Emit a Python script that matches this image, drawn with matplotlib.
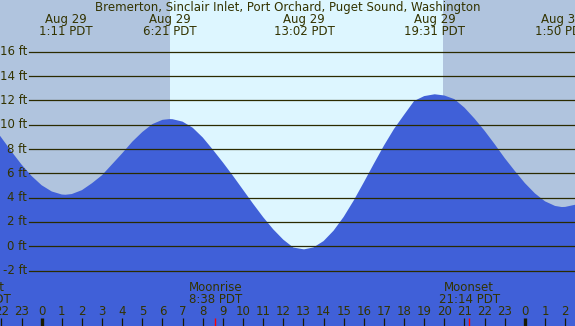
import matplotlib
matplotlib.use("Agg")
import matplotlib.pyplot as plt
import matplotlib.transforms as mtransforms

# tide height (ft) every half hour, hours from Aug 29 00:00
hours = [-2.5, -2.0, -1.5, -1.0, -0.5, 0.0, 0.5, 1.0, 1.18, 1.5, 2.0, 2.5,
         3.0, 3.5, 4.0, 4.5, 5.0, 5.5, 6.0, 6.35, 6.5, 7.0, 7.5, 8.0, 8.5,
         9.0, 9.5, 10.0, 10.5, 11.0, 11.5, 12.0, 12.5, 13.03, 13.5, 14.0,
         14.5, 15.0, 15.5, 16.0, 16.5, 17.0, 17.5, 18.0, 18.5, 19.0, 19.52,
         20.0, 20.5, 21.0, 21.5, 22.0, 22.5, 23.0, 23.5, 24.0, 24.5, 25.0,
         25.5, 25.83, 26.0, 26.5, 27.0]
height = [10.05, 8.93, 7.80, 6.72, 5.78, 5.02, 4.51, 4.26, 4.24, 4.30, 4.62,
          5.19, 5.85, 6.75, 7.65, 8.60, 9.40, 10.05, 10.40, 10.46, 10.45,
          10.25, 9.75, 8.95, 7.95, 6.90, 5.80, 4.65, 3.50, 2.40, 1.40, 0.55,
          -0.10, -0.25, -0.09, 0.43, 1.29, 2.42, 3.77, 5.26, 6.79, 8.28,
          9.65, 10.81, 11.95, 12.35, 12.50, 12.40, 12.10, 11.40, 10.50,
          9.50, 8.40, 7.25, 6.20, 5.20, 4.35, 3.70, 3.32, 3.23, 3.24, 3.42,
          3.80]

# high / low tide labels
ext_hours = [1.183, 6.35, 13.033, 19.517, 25.833]
ext_dates = ["Aug 29", "Aug 29", "Aug 29", "Aug 29", "Aug 30"]
ext_times = ["1:11 PDT", "6:21 PDT", "13:02 PDT", "19:31 PDT", "1:50 PDT"]

sunrise = 6.38
sunset = 19.93

moon_hours = [-3.05, 8.633, 21.233]
moon_names = ["Moonset", "Moonrise", "Moonset"]
moon_times = ["20:57 PDT", "8:38 PDT", "21:14 PDT"]

title = "Bremerton, Sinclair Inlet, Port Orchard, Puget Sound, Washington"
grid_ft = [-2, 0, 2, 4, 6, 8, 10, 12, 14, 16]

night_col = "#b0c4de"
day_col = "#ddf6ff"
water_col = "#4060d8"
text_col = "#333300"
fs = 8.45

W, H = 575, 326
fig = plt.figure(figsize=(W / 100, H / 100), dpi=100)
ax = fig.add_axes([0, 0, 1, 1])
ax.set_xlim(-2.07, 26.49)
ax.set_ylim(-6.55, 20.25)
ax.axis("off")
fig.patch.set_facecolor(night_col)

# day / night background
ax.axvspan(-5, sunrise, color=night_col, lw=0)
ax.axvspan(sunrise, sunset, color=day_col, lw=0)
ax.axvspan(sunset, 30, color=night_col, lw=0)

# water
ax.fill_between(hours, -10, height, color=water_col, lw=0, zorder=2)

# horizontal lines and their labels, starting just right of the label
bt = mtransforms.blended_transform_factory(ax.transAxes, ax.transData)
x0 = 29 / W
for v in grid_ft:
    ax.plot([x0, 1], [v, v], color="#2b2b00", lw=0.9, transform=bt, zorder=3)
    ax.text(27 / W, v, "%d ft" % v, transform=bt, ha="right", va="center",
            color=text_col, fontsize=fs, zorder=4)

tx = mtransforms.blended_transform_factory(ax.transData, ax.transAxes)

def ypos(px):
    return 1 - px / H

ax.text(0.5, ypos(7.5), title, transform=ax.transAxes, ha="center",
        va="center", color=text_col, fontsize=fs)

for h, d, t in zip(ext_hours, ext_dates, ext_times):
    ax.text(h, ypos(19.5), d, transform=tx, ha="center", va="center",
            color=text_col, fontsize=fs)
    ax.text(h, ypos(31.5), t, transform=tx, ha="center", va="center",
            color=text_col, fontsize=fs)

# hour ticks along the bottom
for h in range(-2, 27):
    lab = str(h % 24)
    midnight = (h % 24 == 0)
    ax.plot([h, h], [ypos(318), 0], color="#1a1a00",
            lw=2.4 if midnight else 0.9, transform=tx, zorder=5,
            solid_capstyle="butt")
    ax.text(h, ypos(311.5), lab, transform=tx, ha="center", va="center",
            color=text_col, fontsize=fs, zorder=5)

for h, n, t in zip(moon_hours, moon_names, moon_times):
    ax.text(h, ypos(287.5), n, transform=tx, ha="center", va="center",
            color=text_col, fontsize=fs, zorder=6)
    ax.text(h, ypos(299.5), t, transform=tx, ha="center", va="center",
            color=text_col, fontsize=fs, zorder=6)
    ax.plot([h, h], [ypos(318), 0], color="#ff0000", lw=1.0, transform=tx,
            zorder=6, solid_capstyle="butt")

fig.savefig("out.png", dpi=100, facecolor=fig.get_facecolor())
